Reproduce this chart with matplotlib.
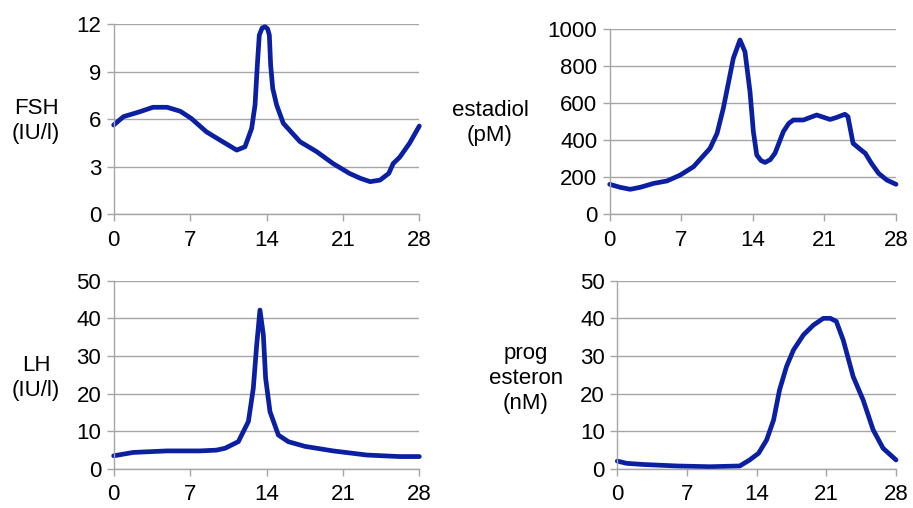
import matplotlib
matplotlib.use("Agg")
import matplotlib.pyplot as plt

plt.rcParams['font.family'] = ['Liberation Sans', 'DejaVu Sans']

# day of cycle
fsh_days = [0, 0.9, 2.4, 3.6, 4.9, 6.1, 7.1, 8.5, 9.74, 11.27, 12.03, 12.64, 12.95, 13.16,
            13.34, 13.6, 13.86, 14.1, 14.26, 14.38, 14.57, 14.93, 15.54, 17.07, 18.6, 20.1,
            21.6, 22.6, 23.5, 24.4, 25.2, 25.6, 26.2, 27.1, 28]
fsh_vals = [5.63, 6.16, 6.47, 6.75, 6.75, 6.5, 6.05, 5.2, 4.68, 4.05, 4.26, 5.42, 6.89, 9.41,
            11.3, 11.75, 11.83, 11.7, 11.3, 9.41, 7.94, 6.89, 5.74, 4.58, 3.95, 3.2,
            2.58, 2.27, 2.06, 2.16, 2.58, 3.2, 3.6, 4.48, 5.57]

est_days = [0, 1.0, 2.0, 3.0, 4.3, 5.6, 6.9, 8.2, 9.81, 10.5, 11.11, 12.09, 12.74, 13.23,
            13.72, 14.05, 14.38, 14.8, 15.19, 15.7, 16.17, 16.98, 17.5, 17.96, 18.94, 20.24,
            21.55, 22.2, 23.0, 23.3, 23.8, 24.5, 25.0, 25.6, 26.3, 27.1, 28]
est_vals = [162, 146, 135, 146, 167, 180, 212, 257, 356, 437, 572, 842, 941, 877,
            662, 446, 320, 290, 280, 295, 330, 446, 490, 509, 509, 536,
            512, 523, 540, 527, 383, 351, 329, 275, 221, 185, 162]

lh_days = [0, 1.8, 4.9, 7.9, 9.4, 10.2, 11.42, 12.34, 12.79, 13.1, 13.4, 13.71, 13.92, 14.32,
           15.09, 16.0, 17.53, 20.1, 23.2, 26.2, 28]
lh_vals = [3.5, 4.4, 4.8, 4.8, 5.0, 5.5, 7.26, 12.6, 21.4, 32.9, 42.2, 35.6, 24.1, 15.2,
           9.0, 7.25, 6.0, 4.8, 3.7, 3.3, 3.3]

prog_days = [0, 0.94, 2.6, 6.0, 9.3, 12.3, 13.3, 14.2, 15.0, 15.7, 16.3, 17.0, 17.7, 18.7,
             19.7, 20.7, 21.4, 22.0, 22.7, 23.7, 24.7, 25.7, 26.7, 28]
prog_vals = [2.1, 1.5, 1.2, 0.8, 0.6, 0.8, 2.4, 4.2, 7.7, 13.0, 21.0, 27.2, 31.6, 35.6,
             38.2, 40.0, 40.0, 39.2, 34.2, 24.5, 18.3, 10.4, 5.5, 2.4]

day_ticks = [0, 7, 14, 21, 28]
line_color = '#0b1fa3'
grid_color = '#a6a6a6'
font_size = 16


def styleAxis(ax, ymax, ystep):
    # Excel-like look: grey horizontal grid, no top/right frame
    ax.set_xlim(0, 28)
    ax.set_ylim(0, ymax)
    ax.set_xticks(day_ticks)
    ax.set_yticks(range(0, ymax + 1, ystep))
    ax.grid(axis='y', color=grid_color, linewidth=1)
    ax.set_axisbelow(True)
    for side in ['top', 'right']:
        ax.spines[side].set_visible(False)
    for side in ['left', 'bottom']:
        ax.spines[side].set_color(grid_color)
        ax.spines[side].set_linewidth(1)
    ax.tick_params(axis='both', colors=grid_color, labelcolor='black', labelsize=font_size,
                   length=5, width=1, direction='out')
    ax.tick_params(axis='x', pad=6)
    ax.tick_params(axis='y', pad=4)


def drawCurve(ax, days, vals):
    ax.plot(days, vals, color=line_color, linewidth=3.4, solid_joinstyle='round',
            solid_capstyle='round', clip_on=False)


fig = plt.figure(figsize=(9.13, 5.08), dpi=100)

ax1 = fig.add_axes([0.1245, 0.5781, 0.3348, 0.3746])
drawCurve(ax1, fsh_days, fsh_vals)
styleAxis(ax1, 12, 3)

ax2 = fig.add_axes([0.6678, 0.5781, 0.3136, 0.3648])
drawCurve(ax2, est_days, est_vals)
styleAxis(ax2, 1000, 200)

ax3 = fig.add_axes([0.1245, 0.0768, 0.3348, 0.3707])
drawCurve(ax3, lh_days, lh_vals)
styleAxis(ax3, 50, 10)

ax4 = fig.add_axes([0.6761, 0.0768, 0.3053, 0.3707])
drawCurve(ax4, prog_days, prog_vals)
styleAxis(ax4, 50, 10)

# y labels placed as free text like in the original
fig.text(36 / 913, 1 - 121 / 508, 'FSH\n(IU/l)', ha='center', va='center', fontsize=font_size,
         linespacing=1.25)
fig.text(490 / 913, 1 - 123 / 508, 'estadiol\n(pM)', ha='center', va='center', fontsize=font_size,
         linespacing=1.25)
fig.text(36 / 913, 1 - 378 / 508, 'LH\n(IU/l)', ha='center', va='center', fontsize=font_size,
         linespacing=1.25)
fig.text(526 / 913, 1 - 378 / 508, 'prog\nesteron\n(nM)', ha='center', va='center',
         fontsize=font_size, linespacing=1.25)

fig.savefig('out.png', dpi=100)
